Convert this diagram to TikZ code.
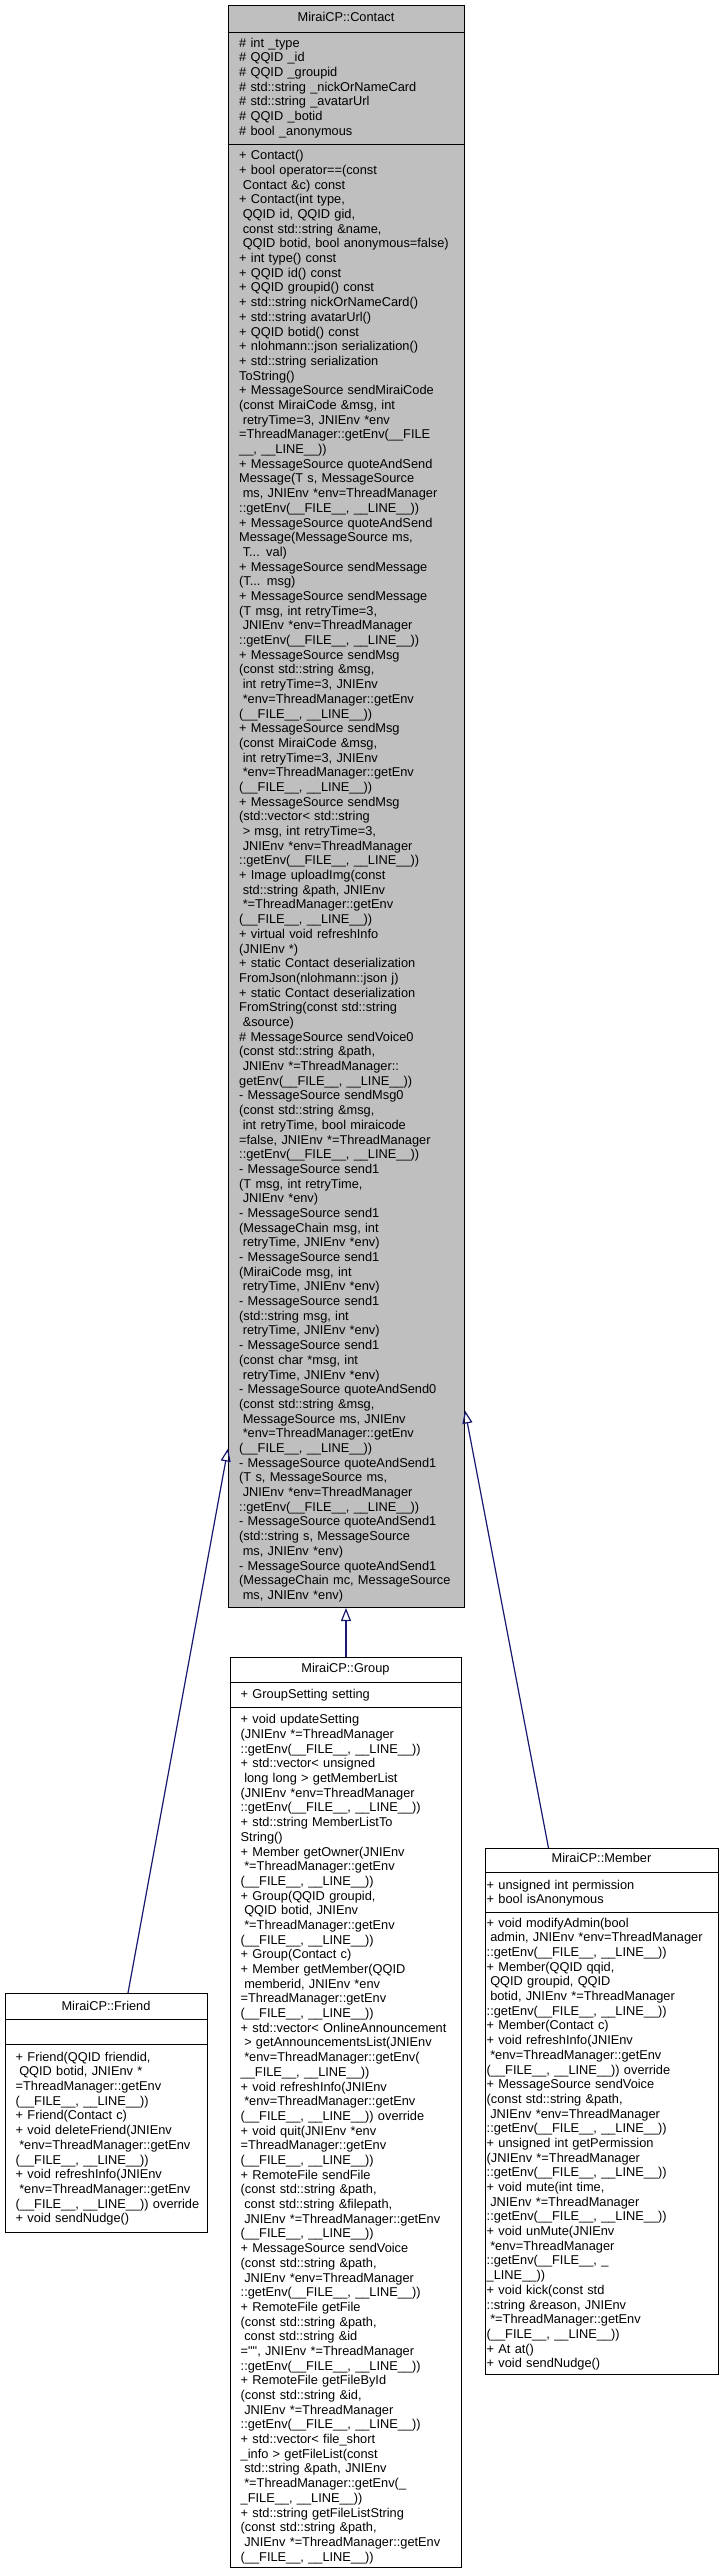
\documentclass[tikz,border=0pt]{standalone}
\usepackage{fontspec}
\setmainfont{Liberation Sans}
\usetikzlibrary{arrows.meta}
\definecolor{edgeblue}{HTML}{191970}
\definecolor{mainfill}{HTML}{BFBFBF}
\newcommand\ls{\hspace*{0.278em}}
\newcommand\fnt{\fontsize{12.8}{14.69}\selectfont}
\newcommand\FL{\_\_FILE\_\_, \_\_LINE\_\_}
\begin{document}
\begin{tikzpicture}[x=1pt,y=-1pt,
  box/.style={draw=black, line width=1pt, inner sep=0pt, anchor=north west, fill=white},
  mainbox/.style={box, fill=mainfill},
  txt/.style={anchor=north west, inner sep=0pt, align=left, text width=300pt, font=\fnt},
  ttl/.style={anchor=base, inner sep=0pt, font=\fnt},
  inh/.style={draw=edgeblue, line width=1.2pt, -{Triangle[open, length=13pt, width=10pt]}}
]
\fill[white] (0,0) rectangle (724,2575);
\useasboundingbox (0,0) rectangle (724,2575);

% ---------- MiraiCP::Contact ----------
\node[mainbox, minimum width=236pt, minimum height=27pt] (contactT) at (228,5) {};
\node[mainbox, minimum width=236pt, minimum height=112pt] (contactA) at (228,32) {};
\node[mainbox, minimum width=236pt, minimum height=1463pt] (contactM) at (228,144) {};
\node[ttl] (contactTitle) at (346,21.3) {MiraiCP::Contact};
\node[txt] (contactAttr) at (239,36.6) {\strut \# int \_type\\
\strut \# QQID \_id\\
\strut \# QQID \_groupid\\
\strut \# std::string \_nickOrNameCard\\
\strut \# std::string \_avatarUrl\\
\strut \# QQID \_botid\\
\strut \# bool \_anonymous};
\node[txt] (contactMeth) at (239,149.3) {\strut + Contact()\\
\strut + bool operator==(const\\
\strut\ls Contact \&c) const\\
\strut + Contact(int type,\\
\strut\ls QQID id, QQID gid,\\
\strut\ls const std::string \&name,\\
\strut\ls QQID botid, bool anonymous=false)\\
\strut + int type() const\\
\strut + QQID id() const\\
\strut + QQID groupid() const\\
\strut + std::string nickOrNameCard()\\
\strut + std::string avatarUrl()\\
\strut + QQID botid() const\\
\strut + nlohmann::json serialization()\\
\strut + std::string serialization\\
\strut ToString()\\
\strut + MessageSource sendMiraiCode\\
\strut (const MiraiCode \&msg, int\\
\strut\ls retryTime=3, JNIEnv *env\\
\strut =ThreadManager::getEnv(\_\_FILE\\
\strut \_\_, \_\_LINE\_\_))\\
\strut + MessageSource quoteAndSend\\
\strut Message(T s, MessageSource\\
\strut\ls ms, JNIEnv *env=ThreadManager\\
\strut ::getEnv(\FL))\\
\strut + MessageSource quoteAndSend\\
\strut Message(MessageSource ms,\\
\strut\ls T... val)\\
\strut + MessageSource sendMessage\\
\strut (T... msg)\\
\strut + MessageSource sendMessage\\
\strut (T msg, int retryTime=3,\\
\strut\ls JNIEnv *env=ThreadManager\\
\strut ::getEnv(\FL))\\
\strut + MessageSource sendMsg\\
\strut (const std::string \&msg,\\
\strut\ls int retryTime=3, JNIEnv\\
\strut\ls *env=ThreadManager::getEnv\\
\strut (\FL))\\
\strut + MessageSource sendMsg\\
\strut (const MiraiCode \&msg,\\
\strut\ls int retryTime=3, JNIEnv\\
\strut\ls *env=ThreadManager::getEnv\\
\strut (\FL))\\
\strut + MessageSource sendMsg\\
\strut (std::vector< std::string\\
\strut\ls > msg, int retryTime=3,\\
\strut\ls JNIEnv *env=ThreadManager\\
\strut ::getEnv(\FL))\\
\strut + Image uploadImg(const\\
\strut\ls std::string \&path, JNIEnv\\
\strut\ls *=ThreadManager::getEnv\\
\strut (\FL))\\
\strut + virtual void refreshInfo\\
\strut (JNIEnv *)\\
\strut + static Contact deserialization\\
\strut FromJson(nlohmann::json j)\\
\strut + static Contact deserialization\\
\strut FromString(const std::string\\
\strut\ls \&source)\\
\strut \# MessageSource sendVoice0\\
\strut (const std::string \&path,\\
\strut\ls JNIEnv *=ThreadManager::\\
\strut getEnv(\FL))\\
\strut - MessageSource sendMsg0\\
\strut (const std::string \&msg,\\
\strut\ls int retryTime, bool miraicode\\
\strut =false, JNIEnv *=ThreadManager\\
\strut ::getEnv(\FL))\\
\strut - MessageSource send1\\
\strut (T msg, int retryTime,\\
\strut\ls JNIEnv *env)\\
\strut - MessageSource send1\\
\strut (MessageChain msg, int\\
\strut\ls retryTime, JNIEnv *env)\\
\strut - MessageSource send1\\
\strut (MiraiCode msg, int\\
\strut\ls retryTime, JNIEnv *env)\\
\strut - MessageSource send1\\
\strut (std::string msg, int\\
\strut\ls retryTime, JNIEnv *env)\\
\strut - MessageSource send1\\
\strut (const char *msg, int\\
\strut\ls retryTime, JNIEnv *env)\\
\strut - MessageSource quoteAndSend0\\
\strut (const std::string \&msg,\\
\strut\ls MessageSource ms, JNIEnv\\
\strut\ls *env=ThreadManager::getEnv\\
\strut (\FL))\\
\strut - MessageSource quoteAndSend1\\
\strut (T s, MessageSource ms,\\
\strut\ls JNIEnv *env=ThreadManager\\
\strut ::getEnv(\FL))\\
\strut - MessageSource quoteAndSend1\\
\strut (std::string s, MessageSource\\
\strut\ls ms, JNIEnv *env)\\
\strut - MessageSource quoteAndSend1\\
\strut (MessageChain mc, MessageSource\\
\strut\ls ms, JNIEnv *env)};

% ---------- MiraiCP::Group ----------
\node[box, minimum width=231pt, minimum height=25pt] (groupT) at (230,1657) {};
\node[box, minimum width=231pt, minimum height=25pt] (groupA) at (230,1682) {};
\node[box, minimum width=231pt, minimum height=860pt] (groupM) at (230,1707) {};
\node[ttl] (groupTitle) at (345.5,1672.9) {MiraiCP::Group};
\node[txt] (groupAttr) at (240.5,1688.3) {\strut + GroupSetting setting};
\node[txt] (groupMeth) at (240.5,1713.3) {\strut + void updateSetting\\
\strut (JNIEnv *=ThreadManager\\
\strut ::getEnv(\FL))\\
\strut + std::vector< unsigned\\
\strut\ls long long > getMemberList\\
\strut (JNIEnv *env=ThreadManager\\
\strut ::getEnv(\FL))\\
\strut + std::string MemberListTo\\
\strut String()\\
\strut + Member getOwner(JNIEnv\\
\strut\ls *=ThreadManager::getEnv\\
\strut (\FL))\\
\strut + Group(QQID groupid,\\
\strut\ls QQID botid, JNIEnv\\
\strut\ls *=ThreadManager::getEnv\\
\strut (\FL))\\
\strut + Group(Contact c)\\
\strut + Member getMember(QQID\\
\strut\ls memberid, JNIEnv *env\\
\strut =ThreadManager::getEnv\\
\strut (\FL))\\
\strut + std::vector< OnlineAnnouncement\\
\strut\ls > getAnnouncementsList(JNIEnv\\
\strut\ls *env=ThreadManager::getEnv(\\
\strut \FL))\\
\strut + void refreshInfo(JNIEnv\\
\strut\ls *env=ThreadManager::getEnv\\
\strut (\FL)) override\\
\strut + void quit(JNIEnv *env\\
\strut =ThreadManager::getEnv\\
\strut (\FL))\\
\strut + RemoteFile sendFile\\
\strut (const std::string \&path,\\
\strut\ls const std::string \&filepath,\\
\strut\ls JNIEnv *=ThreadManager::getEnv\\
\strut (\FL))\\
\strut + MessageSource sendVoice\\
\strut (const std::string \&path,\\
\strut\ls JNIEnv *env=ThreadManager\\
\strut ::getEnv(\FL))\\
\strut + RemoteFile getFile\\
\strut (const std::string \&path,\\
\strut\ls const std::string \&id\\
\strut =\textquotedbl\textquotedbl, JNIEnv *=ThreadManager\\
\strut ::getEnv(\FL))\\
\strut + RemoteFile getFileById\\
\strut (const std::string \&id,\\
\strut\ls JNIEnv *=ThreadManager\\
\strut ::getEnv(\FL))\\
\strut + std::vector< file\_short\\
\strut \_info > getFileList(const\\
\strut\ls std::string \&path, JNIEnv\\
\strut\ls *=ThreadManager::getEnv(\_\\
\strut \_FILE\_\_, \_\_LINE\_\_))\\
\strut + std::string getFileListString\\
\strut (const std::string \&path,\\
\strut\ls JNIEnv *=ThreadManager::getEnv\\
\strut (\FL))};

% ---------- MiraiCP::Member ----------
\node[box, minimum width=233pt, minimum height=24pt] (memberT) at (485,1848) {};
\node[box, minimum width=233pt, minimum height=40pt] (memberA) at (485,1872) {};
\node[box, minimum width=233pt, minimum height=462pt] (memberM) at (485,1912) {};
\node[ttl] (memberTitle) at (601.5,1862.9) {MiraiCP::Member};
\node[txt] (memberAttr) at (486.5,1878.6) {\strut + unsigned int permission\\
\strut + bool isAnonymous};
\node[txt] (memberMeth) at (486.5,1916.6) {\strut + void modifyAdmin(bool\\
\strut\ls admin, JNIEnv *env=ThreadManager\\
\strut ::getEnv(\FL))\\
\strut + Member(QQID qqid,\\
\strut\ls QQID groupid, QQID\\
\strut\ls botid, JNIEnv *=ThreadManager\\
\strut ::getEnv(\FL))\\
\strut + Member(Contact c)\\
\strut + void refreshInfo(JNIEnv\\
\strut\ls *env=ThreadManager::getEnv\\
\strut (\FL)) override\\
\strut + MessageSource sendVoice\\
\strut (const std::string \&path,\\
\strut\ls JNIEnv *env=ThreadManager\\
\strut ::getEnv(\FL))\\
\strut + unsigned int getPermission\\
\strut (JNIEnv *=ThreadManager\\
\strut ::getEnv(\FL))\\
\strut + void mute(int time,\\
\strut\ls JNIEnv *=ThreadManager\\
\strut ::getEnv(\FL))\\
\strut + void unMute(JNIEnv\\
\strut\ls *env=ThreadManager\\
\strut ::getEnv(\_\_FILE\_\_, \_\\
\strut \_LINE\_\_))\\
\strut + void kick(const std\\
\strut ::string \&reason, JNIEnv\\
\strut\ls *=ThreadManager::getEnv\\
\strut (\FL))\\
\strut + At at()\\
\strut + void sendNudge()};

% ---------- MiraiCP::Friend ----------
\node[box, minimum width=202pt, minimum height=26pt] (friendT) at (5,1993) {};
\node[box, minimum width=202pt, minimum height=25pt] (friendA) at (5,2019) {};
\node[box, minimum width=202pt, minimum height=188pt] (friendM) at (5,2044) {};
\node[ttl] (friendTitle) at (106,2010.3) {MiraiCP::Friend};
\node[txt] (friendMeth) at (15.5,2050.7) {\strut + Friend(QQID friendid,\\
\strut\ls QQID botid, JNIEnv *\\
\strut =ThreadManager::getEnv\\
\strut (\FL))\\
\strut + Friend(Contact c)\\
\strut + void deleteFriend(JNIEnv\\
\strut\ls *env=ThreadManager::getEnv\\
\strut (\FL))\\
\strut + void refreshInfo(JNIEnv\\
\strut\ls *env=ThreadManager::getEnv\\
\strut (\FL)) override\\
\strut + void sendNudge()};

% ---------- inheritance connectors ----------
\draw[inh] (groupT.north) -- (groupT.north |- contactM.south);
\draw[inh] ([xshift=21.5pt]friendT.north) -- ([yshift=-572.5pt]contactM.west);
\draw[inh] ([xshift=-53.5pt]memberT.north) -- ([yshift=-534.5pt]contactM.east);
\end{tikzpicture}
\end{document}
